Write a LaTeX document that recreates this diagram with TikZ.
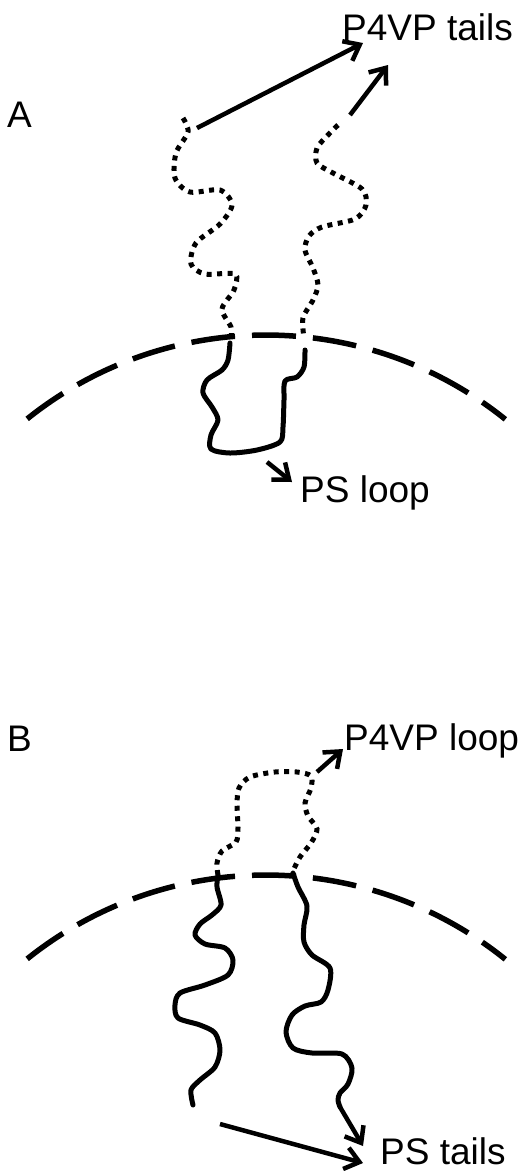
\documentclass[tikz,border=0pt]{standalone}
\usepackage{fontspec}
\setmainfont{Liberation Sans}
\usetikzlibrary{arrows.meta}

\begin{document}
\begin{tikzpicture}[x=1pt, y=1pt,
    chain/.style={line width=5pt, line join=round, line cap=round},
    dotchain/.style={line width=5pt, dash pattern=on 5pt off 5.5pt},
    shell/.style={line width=5.5pt, dash pattern=on 44pt off 17pt},
    pointer/.style={line width=4.5pt, -{Straight Barb[length=14pt, width=22pt]}},
    lbl/.style={inner sep=0pt, anchor=base west, text depth=0pt, font=\fontsize{37}{40}\selectfont}]
    \useasboundingbox (0,0) rectangle (523,-1171);

    % A: tails outside, loop inside
    \node[lbl] (panelA) at (7,-127) {A};
    \node[lbl] (p4vpA) at (342,-40) {P4VP tails};
    \node[lbl] (psA) at (300,-502) {PS loop};
    \draw[shell] (266,-717) ++(128.7:382) arc[start angle=128.7, end angle=51.2, radius=382];
    \draw[dotchain] plot[smooth] coordinates {(183,-118) (188,-132) (176,-153) (175,-178) (190,-192)
        (220,-190) (232,-205) (220,-224) (196,-243) (191,-264) (205,-274) (235,-274) (234,-290)
        (222,-309) (231,-327) (231,-337)};
    \draw[dotchain] plot[smooth] coordinates {(338,-125) (328,-135) (317,-148) (317,-163) (333,-173)
        (362,-189) (366,-205) (355,-219) (322,-227) (309,-236) (305,-250) (313,-268) (318,-285)
        (313,-300) (303,-318) (304,-338)};
    \draw[chain] plot[smooth] coordinates {(230,-343) (228,-360) (222,-370) (207,-380) (203,-393)
        (212,-407) (218,-420) (211,-435) (211,-449) (230,-453) (257,-450) (280,-442) (283,-427)
        (284,-400) (285,-381) (297,-377) (304,-367) (305,-350)};
    \coordinate (tailA1) at (197,-128);
    \coordinate (tailA2) at (350,-115);
    \coordinate (tipA1) at (363,-43);
    \coordinate (tipA2) at (388,-65);
    \coordinate (loopA) at (267,-462);
    \coordinate (tipA3) at (292,-482);
    \draw[pointer] (tailA1) -- (tipA1);
    \draw[pointer] (tailA2) -- (tipA2);
    \draw[pointer] (loopA) -- (tipA3);

    % B: loop outside, tails inside
    \node[lbl] (panelB) at (7,-751) {B};
    \node[lbl] (p4vpB) at (344,-750) {P4VP loop};
    \node[lbl] (psB) at (380,-1164) {PS tails};
    \draw[shell] (266,-1257) ++(128.7:382) arc[start angle=128.7, end angle=51.2, radius=382];
    \draw[dotchain] plot[smooth] coordinates {(218,-875) (217,-863) (222,-851) (236,-842) (238,-828)
        (237,-805) (239,-788) (250,-777) (275,-772) (297,-772) (311,-776) (311,-788) (305,-803)
        (308,-816) (317,-829) (311,-843) (300,-857) (292,-873)};
    \draw[chain] plot[smooth] coordinates {(218,-875) (217,-887) (221,-905) (212,-915) (200,-924)
        (195,-935) (205,-944) (225,-948) (233,-960) (228,-975) (205,-985) (180,-993) (175,-1005)
        (178,-1018) (200,-1025) (215,-1033) (220,-1050) (215,-1067) (200,-1080) (191,-1090)
        (193,-1105)};
    \draw[chain] plot[smooth] coordinates {(293,-873) (298,-887) (307,-906) (304,-925) (304,-942)
        (312,-955) (330,-968) (328,-990) (321,-1002) (305,-1006) (292,-1015) (286,-1032)
        (293,-1048) (312,-1053) (342,-1054) (352,-1068) (348,-1084) (340,-1093) (338,-1100)
        (340,-1107)};
    \coordinate (loopB) at (317,-772);
    \coordinate (tipB1) at (343,-749);
    \coordinate (tailB1) at (340,-1107);
    \coordinate (tipB2) at (363,-1146);
    \coordinate (tailB2) at (220,-1124);
    \coordinate (tipB3) at (363,-1163);
    \draw[pointer] (loopB) -- (tipB1);
    \draw[pointer] (tailB1) -- (tipB2);
    \draw[pointer] (tailB2) -- (tipB3);
\end{tikzpicture}
\end{document}
